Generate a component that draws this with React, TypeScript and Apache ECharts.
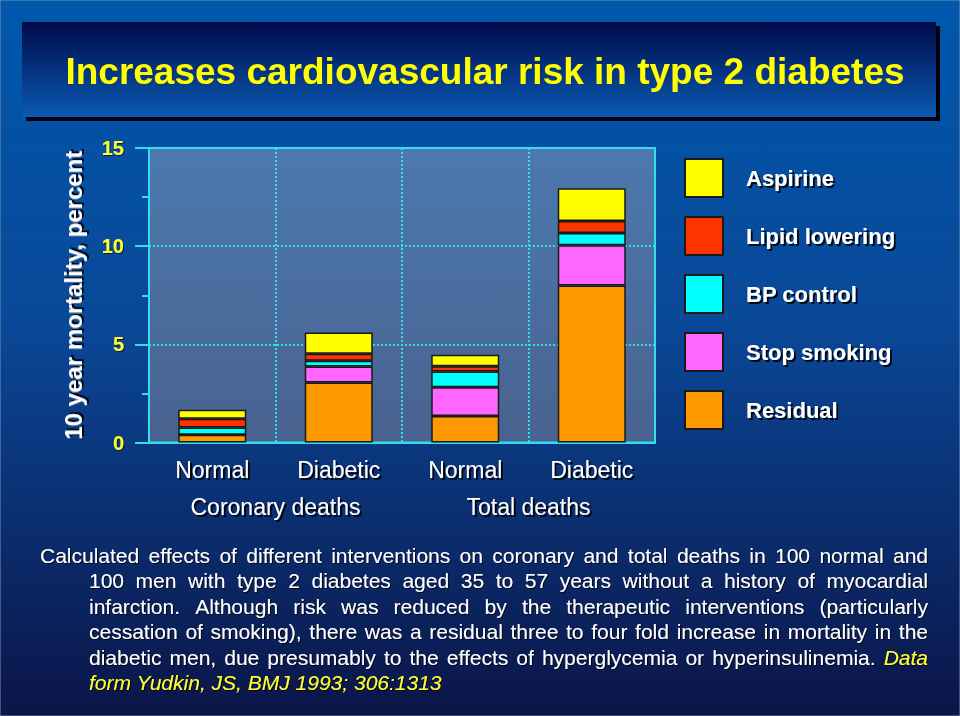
import React, { useEffect, useRef } from "react";
import * as echarts from "echarts";

const categories = ["Normal", "Diabetic", "Normal", "Diabetic"];
const groupLabels = ["Coronary deaths", "Total deaths"];

const residual = [0.4, 3.05, 1.35, 8.0];
const stopSmoking = [0, 0.82, 1.47, 2.05];
const bpControl = [0.36, 0.29, 0.8, 0.62];
const lipidLowering = [0.45, 0.36, 0.27, 0.61];
const aspirine = [0.46, 1.08, 0.58, 1.67];

const legendOrder = ["Aspirine", "Lipid lowering", "BP control", "Stop smoking", "Residual"];

const titleText = "Increases cardiovascular risk in type 2 diabetes";
const yAxisName = "10 year mortality, percent";

const noteLines = [
  "Calculated effects of different interventions on coronary and total deaths in 100 normal and",
  "100 men with type 2 diabetes aged 35 to 57 years without a history of myocardial",
  "infarction. Although risk was reduced by the therapeutic interventions (particularly",
  "cessation of smoking), there was a residual three to four fold increase in mortality in the",
  "diabetic men, due presumably to the effects of hyperglycemia or hyperinsulinemia.",
];
const citeLines = ["Data", "form Yudkin, JS, BMJ 1993; 306:1313"];

const FONT = "'Liberation Sans', Arial, Helvetica, sans-serif";

function measure(text: string, font: string): number {
  const c = document.createElement("canvas").getContext("2d");
  if (!c) return text.length * 10;
  c.font = font;
  return c.measureText(text).width;
}

function buildNote(): any[] {
  const size = 21;
  const normalFont = `${size}px 'Liberation Sans', Arial, sans-serif`;
  const italicFont = `italic ${size}px 'Liberation Sans', Arial, sans-serif`;
  const right = 928;
  const lineYs = [555, 580.5, 606, 631.5, 657, 682];
  const els: any[] = [];
  const shadow = { textShadowColor: "rgba(0,0,0,0.8)", textShadowOffsetX: 1, textShadowOffsetY: 1, textShadowBlur: 1 };
  noteLines.forEach((line, i) => {
    const x0 = i === 0 ? 40 : 89;
    const words: { t: string; cite: boolean }[] = line.split(" ").map((t) => ({ t, cite: false }));
    if (i === noteLines.length - 1) words.push({ t: citeLines[0], cite: true });
    const widths = words.map((w) => measure(w.t, w.cite ? italicFont : normalFont));
    const total = widths.reduce((a, b) => a + b, 0);
    const gap = (right - x0 - total) / (words.length - 1);
    let x = x0;
    words.forEach((w, k) => {
      els.push({
        type: "text",
        x,
        y: lineYs[i],
        silent: true,
        style: {
          text: w.t,
          fill: w.cite ? "#FFFF33" : "#FFFFFF",
          font: w.cite ? italicFont : normalFont,
          textAlign: "left",
          textVerticalAlign: "middle",
          ...shadow,
        },
      });
      x += widths[k] + gap;
    });
  });
  els.push({
    type: "text",
    x: 89,
    y: lineYs[5],
    silent: true,
    style: {
      text: citeLines[1],
      fill: "#FFFF33",
      font: italicFont,
      textAlign: "left",
      textVerticalAlign: "middle",
      ...shadow,
    },
  });
  return els;
}

export default function App() {
  const ref = useRef<HTMLDivElement>(null);

  useEffect(() => {
    if (!ref.current) return;
    const chart = echarts.init(ref.current, null, { renderer: "svg" });
    const cyan = "#33DDF0";
    const border = { borderColor: "#1a1a1a", borderWidth: 1.5 };
    const mk = (name: string, data: number[], color: string) => ({
      name,
      type: "bar",
      stack: "total",
      data,
      barWidth: 68,
      itemStyle: { color, ...border },
      emphasis: { disabled: true },
    });
    const labelShadow = {
      textShadowColor: "rgba(0,0,0,0.85)",
      textShadowOffsetX: 2,
      textShadowOffsetY: 2,
      textShadowBlur: 1,
    };

    const option: any = {
      animation: false,
      textStyle: { fontFamily: FONT },
      graphic: [
        {
          type: "rect",
          z: -100,
          silent: true,
          shape: { x: 0, y: 0, width: 960, height: 716 },
          style: {
            fill: new echarts.graphic.LinearGradient(0, 0, 0, 1, [
              { offset: 0, color: "#0058AC" },
              { offset: 0.45, color: "#0A4898" },
              { offset: 1, color: "#0B1548" },
            ]),
            stroke: "#7d8fb0",
            lineWidth: 1,
          },
        },
        {
          type: "rect",
          z: -90,
          silent: true,
          shape: { x: 26, y: 26, width: 914, height: 95 },
          style: { fill: "#000010" },
        },
        {
          type: "rect",
          z: -80,
          silent: true,
          shape: { x: 22, y: 22, width: 914, height: 95 },
          style: {
            fill: new echarts.graphic.LinearGradient(0, 0, 0, 1, [
              { offset: 0, color: "#000A4A" },
              { offset: 1, color: "#0A5AB2" },
            ]),
          },
        },
        {
          type: "text",
          z: -70,
          x: 485,
          y: 71,
          silent: true,
          style: {
            text: titleText,
            fill: "#FFFF00",
            font: `bold 37px ${FONT}`,
            textAlign: "center",
            textVerticalAlign: "middle",
            textShadowColor: "#9A2A10",
            textShadowOffsetX: 2,
            textShadowOffsetY: 2,
            textShadowBlur: 0,
          },
        },
        ...buildNote(),
      ],
      legend: {
        orient: "vertical",
        left: 684,
        top: 158,
        padding: 0,
        itemWidth: 38,
        itemHeight: 38,
        itemGap: 18,
        icon: "rect",
        selectedMode: false,
        data: legendOrder,
        textStyle: {
          color: "#FFFFFF",
          fontSize: 22,
          fontWeight: "bold",
          fontFamily: FONT,
          padding: [0, 0, 0, 18],
          ...labelShadow,
        },
      },
      grid: {
        left: 149,
        right: 305,
        top: 148,
        bottom: 273.5,
        show: true,
        backgroundColor: new echarts.graphic.LinearGradient(0, 0, 0, 1, [
          { offset: 0, color: "#4C79AE" },
          { offset: 1, color: "#49628F" },
        ]),
        borderColor: cyan,
        borderWidth: 2,
      },
      xAxis: [
        {
          type: "category",
          data: categories,
          position: "bottom",
          axisLine: { lineStyle: { color: cyan, width: 2 } },
          axisTick: { show: false },
          splitLine: { show: true, lineStyle: { color: cyan, type: "dotted", width: 2 } },
          axisLabel: {
            color: "#FFFFFF",
            fontSize: 23,
            margin: 16,
            ...labelShadow,
          },
        },
        {
          type: "category",
          data: groupLabels,
          position: "bottom",
          offset: 39,
          axisLine: { show: false },
          axisTick: { show: false },
          splitLine: { show: false },
          axisLabel: {
            color: "#FFFFFF",
            fontSize: 23,
            margin: 14,
            ...labelShadow,
          },
        },
      ],
      yAxis: {
        type: "value",
        min: 0,
        max: 15,
        interval: 5,
        name: yAxisName,
        nameLocation: "middle",
        nameRotate: 90,
        nameGap: 64,
        nameTextStyle: {
          color: "#FFFFFF",
          fontSize: 24,
          fontWeight: "bold",
          ...labelShadow,
        },
        axisLine: { show: true, lineStyle: { color: cyan, width: 2 } },
        axisTick: { show: true, length: 14, lineStyle: { color: cyan, width: 2 } },
        minorTick: { show: true, splitNumber: 2, length: 7, lineStyle: { color: cyan, width: 2 } },
        splitLine: { show: true, lineStyle: { color: cyan, type: "dotted", width: 2 } },
        axisLabel: {
          color: "#FFFF33",
          fontSize: 20,
          fontWeight: "bold",
          margin: 25,
          textShadowColor: "rgba(0,0,0,0.6)",
          textShadowOffsetX: 1,
          textShadowOffsetY: 1,
          textShadowBlur: 1,
        },
      },
      series: [
        mk("Residual", residual, "#FF9900"),
        mk("Stop smoking", stopSmoking, "#FF66FF"),
        mk("BP control", bpControl, "#00FFFF"),
        mk("Lipid lowering", lipidLowering, "#FF3300"),
        mk("Aspirine", aspirine, "#FFFF00"),
      ],
    };
    chart.setOption(option);
    return () => chart.dispose();
  }, []);

  return (
    <div
      ref={ref}
      style={{ position: "fixed", left: 0, top: 0, width: 960, height: 716 }}
    />
  );
}
